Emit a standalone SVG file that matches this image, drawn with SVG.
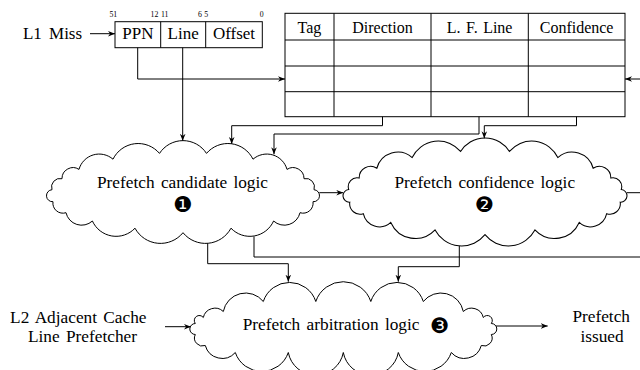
<svg xmlns="http://www.w3.org/2000/svg" width="640" height="370" viewBox="0 0 640 370">
<style>
.t{font-family:"Liberation Serif","Times New Roman",serif;fill:#000}
.big{font-size:17.3px;word-spacing:2px}
.box{font-size:17px}
.hdr{font-size:16px}
.bits{font-size:7.8px}
.num{font-family:"DejaVu Sans",sans-serif;font-size:21.5px}
.sh{fill:none;stroke:#000;stroke-width:1}
.cl{fill:none;stroke:#000;stroke-width:1;vector-effect:non-scaling-stroke}
.c{fill:none;stroke:#000;stroke-width:1}
.a{marker-end:url(#arr)}
</style>
<defs>
<marker id="arr" viewBox="0 0 10 10" refX="10" refY="5" markerWidth="7" markerHeight="7" orient="auto" markerUnits="userSpaceOnUse"><path d="M0,1 L10,5 L0,9 L3,5 Z" fill="#000"/></marker>
<path id="cloudA" d="M -104 -23.3 A 21 21 0 0 1 -70 -33.5 A 28 28 0 0 1 -23.5 -39.3 A 28 28 0 0 1 23.5 -39.3 A 28 28 0 0 1 70 -33.5 A 21 21 0 0 1 104 -23.3 A 11 11 0 0 1 121 -14 A 8.5 8.5 0 0 1 131 -3 A 6 6 0 0 1 130 9 A 10 10 0 0 1 117 20 A 16 16 0 0 1 90.6 28.3 A 26 26 0 0 1 48 35.5 A 29 29 0 0 1 0 40 A 29 29 0 0 1 -48 35.5 A 26 26 0 0 1 -90.6 28.3 A 16 16 0 0 1 -117 20 A 10 10 0 0 1 -130 9 A 6 6 0 0 1 -131 -3 A 8.5 8.5 0 0 1 -121 -14 A 11 11 0 0 1 -104 -23.3 Z"/>
</defs>
<rect width="640" height="370" fill="#fff"/>

<g id="l1miss">
<text class="t box" x="52.5" y="39.3" text-anchor="middle" style="word-spacing:3px">L1 Miss</text>
</g>

<g id="address">
<rect class="sh" x="115" y="21.7" width="147.3" height="26"/>
<line class="sh" x1="160.7" y1="21.7" x2="160.7" y2="47.7"/>
<line class="sh" x1="205.7" y1="21.7" x2="205.7" y2="47.7"/>
<text class="t box" x="137.9" y="39.3" text-anchor="middle">PPN</text>
<text class="t box" x="183.2" y="39.3" text-anchor="middle">Line</text>
<text class="t box" x="234" y="39.3" text-anchor="middle">Offset</text>
<text class="t bits" x="113.3" y="17.3" text-anchor="middle">51</text>
<text class="t bits" x="158.3" y="17.3" text-anchor="end">12</text>
<text class="t bits" x="161" y="17.3">11</text>
<text class="t bits" x="202" y="17.3" text-anchor="end">6</text>
<text class="t bits" x="204.3" y="17.3">5</text>
<text class="t bits" x="261.7" y="17.3" text-anchor="middle">0</text>
</g>

<g id="table">
<rect class="sh" x="285" y="13.3" width="340" height="103.4"/>
<line class="sh" x1="285" y1="40" x2="625" y2="40"/>
<line class="sh" x1="285" y1="66" x2="625" y2="66"/>
<line class="sh" x1="285" y1="91.7" x2="625" y2="91.7"/>
<line class="sh" x1="334" y1="13.3" x2="334" y2="116.7"/>
<line class="sh" x1="431" y1="13.3" x2="431" y2="116.7"/>
<line class="sh" x1="528.3" y1="13.3" x2="528.3" y2="116.7"/>
<text class="t hdr" x="309.5" y="33" text-anchor="middle">Tag</text>
<text class="t hdr" x="382.5" y="33" text-anchor="middle">Direction</text>
<text class="t hdr" x="479.6" y="33" text-anchor="middle" style="word-spacing:1.5px">L. F. Line</text>
<text class="t hdr" x="576.6" y="33" text-anchor="middle">Confidence</text>
</g>

<g id="candidate">
<use href="#cloudA" class="cl" transform="translate(183,192.7)"/>
<text class="t big" x="182.5" y="188.3" text-anchor="middle">Prefetch candidate logic</text>
<text class="num" x="182.7" y="211.6" text-anchor="middle">❶</text>
</g>

<g id="confidence">
<use href="#cloudA" class="cl" transform="translate(485,192.7) scale(1.04,1.05)"/>
<text class="t big" x="484.8" y="188" text-anchor="middle">Prefetch confidence logic</text>
<text class="num" x="484.3" y="211.6" text-anchor="middle">❷</text>
</g>

<g id="arbitration">
<path class="cl" transform="translate(343.3,326.5)" d="M -120 -15 A 22.7 22.7 0 0 1 -80 -25 A 27.6 27.6 0 0 1 -27.5 -25 A 29 29 0 0 1 27.5 -25 A 27.6 27.6 0 0 1 80 -25 A 22.7 22.7 0 0 1 120 -15 A 12 12 0 0 1 140 -9 A 5 5 0 0 1 148 -3 A 5.5 5.5 0 0 1 148 8 A 8 8 0 0 1 138 19 A 17.5 17.5 0 0 1 108 26 A 28 28 0 0 1 55 26 A 28 28 0 0 1 0 26 A 28 28 0 0 1 -55 26 A 28 28 0 0 1 -108 26 A 17.5 17.5 0 0 1 -138 19 A 8 8 0 0 1 -148 8 A 5.5 5.5 0 0 1 -148 -3 A 5 5 0 0 1 -140 -9 A 12 12 0 0 1 -120 -15 Z"/>
<text class="t big" x="242.7" y="330">Prefetch arbitration logic</text>
<text class="num" x="439.3" y="333.1" text-anchor="middle">❸</text>
</g>

<g id="l2adj">
<text class="t big" x="78.3" y="322.7" text-anchor="middle">L2 Adjacent Cache</text>
<text class="t big" x="82.5" y="341.7" text-anchor="middle">Line Prefetcher</text>
</g>

<g id="issued">
<text class="t big" x="601.2" y="321.7" text-anchor="middle">Prefetch</text>
<text class="t big" x="602" y="341.7" text-anchor="middle">issued</text>
</g>

<g id="connectors">
<path class="c a" d="M90 33.7 H115"/>
<path class="c a" d="M137.7 47.7 V79 H285"/>
<path class="c a" d="M182.7 47.7 V140.8"/>
<path class="c a" d="M640 79 H625"/>
<path class="c a" d="M382.5 116.7 V125.7 H231.7 V144"/>
<path class="c a" d="M479 116.7 V134 H274 V154.3"/>
<path class="c a" d="M576.5 116.7 V125.7 H484.3 V138.3"/>
<path class="c a" d="M319.3 192.7 H343.3"/>
<path class="c" d="M626.7 192.7 H640"/>
<path class="c a" d="M207.7 243.3 V263.7 H288.3 V281.7"/>
<path class="c" d="M254 236.5 V257 H640"/>
<path class="c a" d="M459.3 246 V266.7 H398.3 V281.7"/>
<path class="c a" d="M165 326.7 H191"/>
<path class="c a" d="M496 326 H547.7"/>
</g>
</svg>
